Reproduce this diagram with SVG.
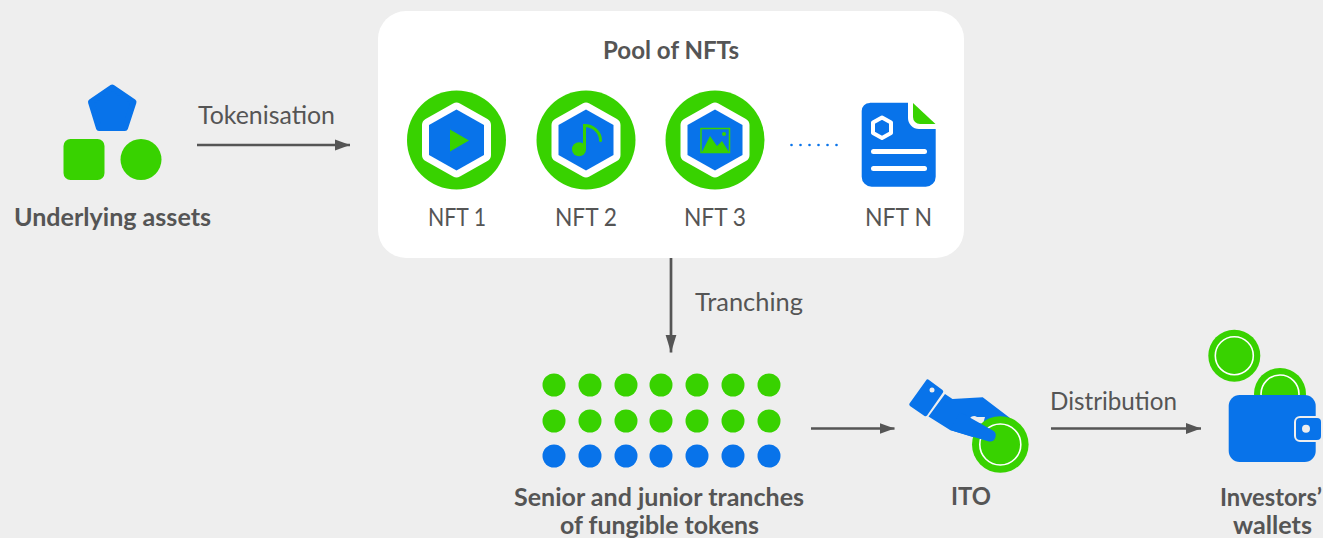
<svg xmlns="http://www.w3.org/2000/svg" width="1323" height="538" viewBox="0 0 1323 538">
<style>
text{font-family:Lato,"Open Sans","Liberation Sans",sans-serif;fill:#555;font-size:24.500px}
.b{font-weight:700}
.g{fill:#38d200}.u{fill:#0873ea}
.hex{fill:#0873ea;stroke:#fff;stroke-width:14;stroke-linejoin:round;paint-order:stroke}
.ring{fill:none;stroke:#fff;stroke-width:1.6}
.c{stroke:#555;stroke-width:2.700;fill:none}
</style>
<defs>
<marker id="a" markerUnits="userSpaceOnUse" markerWidth="16" markerHeight="12" refX="15" refY="6" orient="auto"><path d="M0 .5L15 6L0 11.500Z" fill="#555"/></marker>
<marker id="v" markerUnits="userSpaceOnUse" markerWidth="19" markerHeight="12" refX="18" refY="6" orient="auto"><path d="M0 .5L18 6L0 11.500Z" fill="#555"/></marker>
<polygon id="hx" points="0,-30.500 27.500,-15 27.500,15 0,30.500 -27.500,15 -27.500,-15"/>
</defs>
<rect width="1323" height="538" fill="#eeeeee"/>
<g id="connectors">
<path class="c" d="M197 145H350" marker-end="url(#a)"/>
<path class="c" d="M671 258V352.500" marker-end="url(#v)"/>
<path class="c" d="M811 428.500H894.500" marker-end="url(#a)"/>
<path class="c" d="M1051 428.500H1201" marker-end="url(#a)"/>
</g>
<g id="underlying-assets">
<polygon class="u" points="112.200,87.500 133.500,102 125,128 99,128 91,102" stroke="#0873ea" stroke-width="6" stroke-linejoin="round"/>
<rect class="g" x="63.500" y="139" width="41" height="41" rx="7"/>
<circle class="g" cx="141" cy="159.500" r="20.500"/>
<text class="b" x="14" y="226" textLength="197" lengthAdjust="spacingAndGlyphs">Underlying assets</text>
</g>
<text x="198" y="123.500" textLength="137" lengthAdjust="spacingAndGlyphs">Tokenisation</text>
<g id="pool">
<rect x="378" y="11" width="586" height="247" rx="28" fill="#fff"/>
<text class="b" x="603" y="59" textLength="136" lengthAdjust="spacingAndGlyphs">Pool of NFTs</text>
</g>
<g id="nft-1">
<circle class="g" cx="456.500" cy="140" r="49.500"/>
<use href="#hx" class="hex" x="456.500" y="140"/>
<path class="g" d="M450 129.500L469 140.500L450 151.500Z"/>
<text x="428" y="226" textLength="58" lengthAdjust="spacingAndGlyphs">NFT 1</text>
</g>
<g id="nft-2">
<circle class="g" cx="586" cy="140" r="49.500"/>
<use href="#hx" class="hex" x="586" y="140"/>
<circle class="g" cx="579" cy="149.300" r="7"/>
<path d="M584.500 149V125.500c8 0 16 6 16 15" fill="none" stroke="#38d200" stroke-width="3" stroke-linecap="round"/>
<text x="555" y="226" textLength="62" lengthAdjust="spacingAndGlyphs">NFT 2</text>
</g>
<g id="nft-3">
<circle class="g" cx="715" cy="140" r="49.500"/>
<use href="#hx" class="hex" x="715" y="140"/>
<rect x="701" y="128.500" width="28.500" height="24" fill="none" stroke="#38d200" stroke-width="1.500"/>
<path class="g" d="M702 152L710 136L717 146L722 141L729 152Z"/>
<circle class="g" cx="724" cy="134" r="2"/>
<text x="684" y="226" textLength="62" lengthAdjust="spacingAndGlyphs">NFT 3</text>
</g>
<g id="dots">
<circle class="u" cx="791.500" cy="145" r="1.300"/><circle class="u" cx="800.500" cy="145" r="1.300"/><circle class="u" cx="809.500" cy="145" r="1.300"/><circle class="u" cx="818.500" cy="145" r="1.300"/><circle class="u" cx="827.500" cy="145" r="1.300"/><circle class="u" cx="836.500" cy="145" r="1.300"/>
</g>
<g id="nft-n">
<path class="u" d="M870 102.700H908V118a11 11 0 0 0 11 11H935.700V176.700a10 10 0 0 1-10 10H871.700a10 10 0 0 1-10-10V111a8 8 0 0 1 8-8z"/>
<path class="g" d="M913 103L935.500 124H920a7 7 0 0 1-7-7z"/>
<polygon points="882,117.500 891,122.500 891,133 882,138 873,133 873,122.500" fill="none" stroke="#fff" stroke-width="4" stroke-linejoin="round"/>
<rect x="871" y="149" width="56" height="5" rx="2.500" fill="#fff"/>
<rect x="871" y="166" width="56" height="5" rx="2.500" fill="#fff"/>
<text x="865" y="226" textLength="67" lengthAdjust="spacingAndGlyphs">NFT N</text>
</g>
<text x="695" y="310.500" textLength="108" lengthAdjust="spacingAndGlyphs">Tranching</text>
<g id="tranches">
<g class="g"><circle cx="554" cy="385" r="11.500"/><circle cx="590" cy="385" r="11.500"/><circle cx="626" cy="385" r="11.500"/><circle cx="661" cy="385" r="11.500"/><circle cx="697" cy="385" r="11.500"/><circle cx="733" cy="385" r="11.500"/><circle cx="769" cy="385" r="11.500"/>
<circle cx="554" cy="421" r="11.500"/><circle cx="590" cy="421" r="11.500"/><circle cx="626" cy="421" r="11.500"/><circle cx="661" cy="421" r="11.500"/><circle cx="697" cy="421" r="11.500"/><circle cx="733" cy="421" r="11.500"/><circle cx="769" cy="421" r="11.500"/></g>
<g class="u"><circle cx="554" cy="456" r="11.500"/><circle cx="590" cy="456" r="11.500"/><circle cx="626" cy="456" r="11.500"/><circle cx="661" cy="456" r="11.500"/><circle cx="697" cy="456" r="11.500"/><circle cx="733" cy="456" r="11.500"/><circle cx="769" cy="456" r="11.500"/></g>
<text class="b" x="514" y="506" textLength="290" lengthAdjust="spacingAndGlyphs">Senior and junior tranches</text>
<text class="b" x="560" y="534" textLength="199" lengthAdjust="spacingAndGlyphs">of fungible tokens</text>
</g>
<g id="ito">
<path class="u" d="M929 380L942.500 390a2 2 0 0 1 .500 2.500L927 415.500a2 2 0 0 1-2.500.500L910 406a2 2 0 0 1-.500-2.500L926 380.500a2 2 0 0 1 3-.500z"/>
<circle cx="932" cy="390" r="2.500" fill="#eee"/>
<path class="u" d="M945 394L952.500 399L982.700 397.300L1010 418L1000 440L990 443A5 5 0 0 1 987 441.500L950 430L928.500 416.500z"/>
<path d="M969 421a5 5 0 0 1 8-4l8 0-2 7z" fill="#eee"/>
<circle class="g" cx="1000.300" cy="444.500" r="28.300"/>
<circle class="ring" cx="1000.300" cy="444.500" r="20.500"/>
<path class="u" d="M950 430L989 441.500A6 6 0 0 0 992 430L960 412z"/>
<text class="b" x="951" y="505" textLength="40" lengthAdjust="spacingAndGlyphs">ITO</text>
</g>
<text x="1050" y="409.500" textLength="127" lengthAdjust="spacingAndGlyphs">Distribution</text>
<g id="wallets">
<circle class="g" cx="1234.300" cy="355.700" r="26"/>
<circle class="ring" cx="1234.300" cy="355.700" r="19"/>
<circle class="g" cx="1280" cy="394" r="26"/>
<circle class="ring" cx="1280" cy="394" r="19"/>
<rect class="u" x="1228.700" y="395" width="87" height="67" rx="11"/>
<rect x="1295" y="417" width="27" height="24" rx="5" fill="#0873ea" stroke="#eee" stroke-width="2"/>
<circle cx="1306" cy="428.700" r="4" fill="#eee"/>
<text class="b" x="1220" y="506" textLength="102" lengthAdjust="spacingAndGlyphs">Investors’</text>
<text class="b" x="1233" y="534" textLength="79" lengthAdjust="spacingAndGlyphs">wallets</text>
</g>
</svg>
